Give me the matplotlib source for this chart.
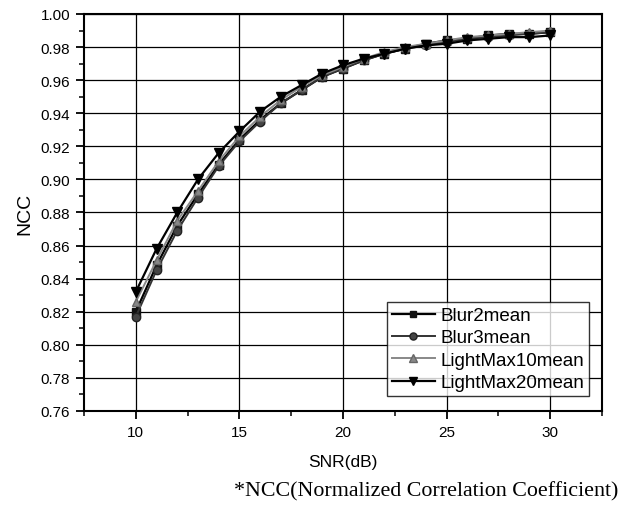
import matplotlib
matplotlib.use("Agg")
import matplotlib.pyplot as plt
from matplotlib.ticker import MultipleLocator, FormatStrFormatter

snr = [10, 11, 12, 13, 14, 15, 16, 17, 18, 19, 20, 21, 22, 23, 24, 25, 26, 27, 28, 29, 30]
blur2 = [0.820, 0.848, 0.872, 0.891, 0.909, 0.924, 0.936, 0.946, 0.954, 0.962, 0.967,
         0.972, 0.976, 0.979, 0.982, 0.984, 0.985, 0.987, 0.988, 0.988, 0.989]
blur3 = [0.817, 0.845, 0.869, 0.889, 0.908, 0.923, 0.935, 0.946, 0.954, 0.962, 0.967,
         0.972, 0.976, 0.979, 0.981, 0.983, 0.985, 0.986, 0.987, 0.988, 0.989]
light10 = [0.826, 0.851, 0.875, 0.893, 0.911, 0.926, 0.938, 0.948, 0.956, 0.963, 0.968,
           0.973, 0.977, 0.980, 0.982, 0.984, 0.986, 0.987, 0.988, 0.989, 0.990]
light20 = [0.832, 0.858, 0.880, 0.900, 0.916, 0.929, 0.941, 0.950, 0.957, 0.964, 0.969,
           0.973, 0.976, 0.979, 0.981, 0.982, 0.984, 0.985, 0.986, 0.986, 0.987]
series_names = ["Blur2mean", "Blur3mean", "LightMax10mean", "LightMax20mean"]

plt.rcParams['font.family'] = ['Liberation Sans', 'DejaVu Sans']

fig = plt.figure(figsize=(6.25, 5.06), dpi=100)
ax = fig.add_axes([0.1344, 0.1858, 0.8288, 0.7846])

ax.plot(snr, blur2, color='black', lw=1.6, marker='s', ms=5.5, mfc='#111111', mec='#111111', label=series_names[0], zorder=3)
ax.plot(snr, blur3, color='#333333', lw=1.4, marker='o', ms=6, mfc='#444444', mec='#222222', label=series_names[1], zorder=3)
ax.plot(snr, light10, color='#888888', lw=1.4, marker='^', ms=6, mfc='#888888', mec='#666666', label=series_names[2], zorder=3)
ax.plot(snr, light20, color='black', lw=1.6, marker='v', ms=7, mfc='black', mec='black', label=series_names[3], zorder=3)

ax.set_xlim(7.5, 32.5)
ax.set_ylim(0.76, 1.00)
ax.xaxis.set_major_locator(MultipleLocator(5))
ax.xaxis.set_minor_locator(MultipleLocator(2.5))
ax.yaxis.set_major_locator(MultipleLocator(0.02))
ax.yaxis.set_minor_locator(MultipleLocator(0.01))
ax.yaxis.set_major_formatter(FormatStrFormatter('%.2f'))

ax.grid(True, which='major', color='black', lw=0.9)
ax.set_axisbelow(True)
for s in ax.spines.values():
    s.set_linewidth(1.5)
ax.tick_params(which='major', direction='out', length=6, width=1.3, labelsize=11, colors='black', pad=4)
ax.tick_params(which='minor', direction='out', length=3.5, width=1.1)
ax.tick_params(top=False, right=False, which='both')

ax.set_xlabel('SNR(dB)', fontsize=12.5, labelpad=11)
ax.set_ylabel('NCC', fontsize=14, labelpad=5)

leg = ax.legend(loc='lower right', bbox_to_anchor=(0.975, 0.038), fontsize=13.5, frameon=True,
                fancybox=False, edgecolor='black', borderpad=0.25, labelspacing=0.28,
                handlelength=2.3, handletextpad=0.3, borderaxespad=0.0, markerscale=0.85)
leg.get_frame().set_linewidth(1.0)

fig.text(426 / 625, 0.008, '*NCC(Normalized Correlation Coefficient)', ha='center', va='bottom',
         fontsize=15.8, family=['Liberation Serif', 'DejaVu Serif'])

fig.savefig('out.png', dpi=100)
